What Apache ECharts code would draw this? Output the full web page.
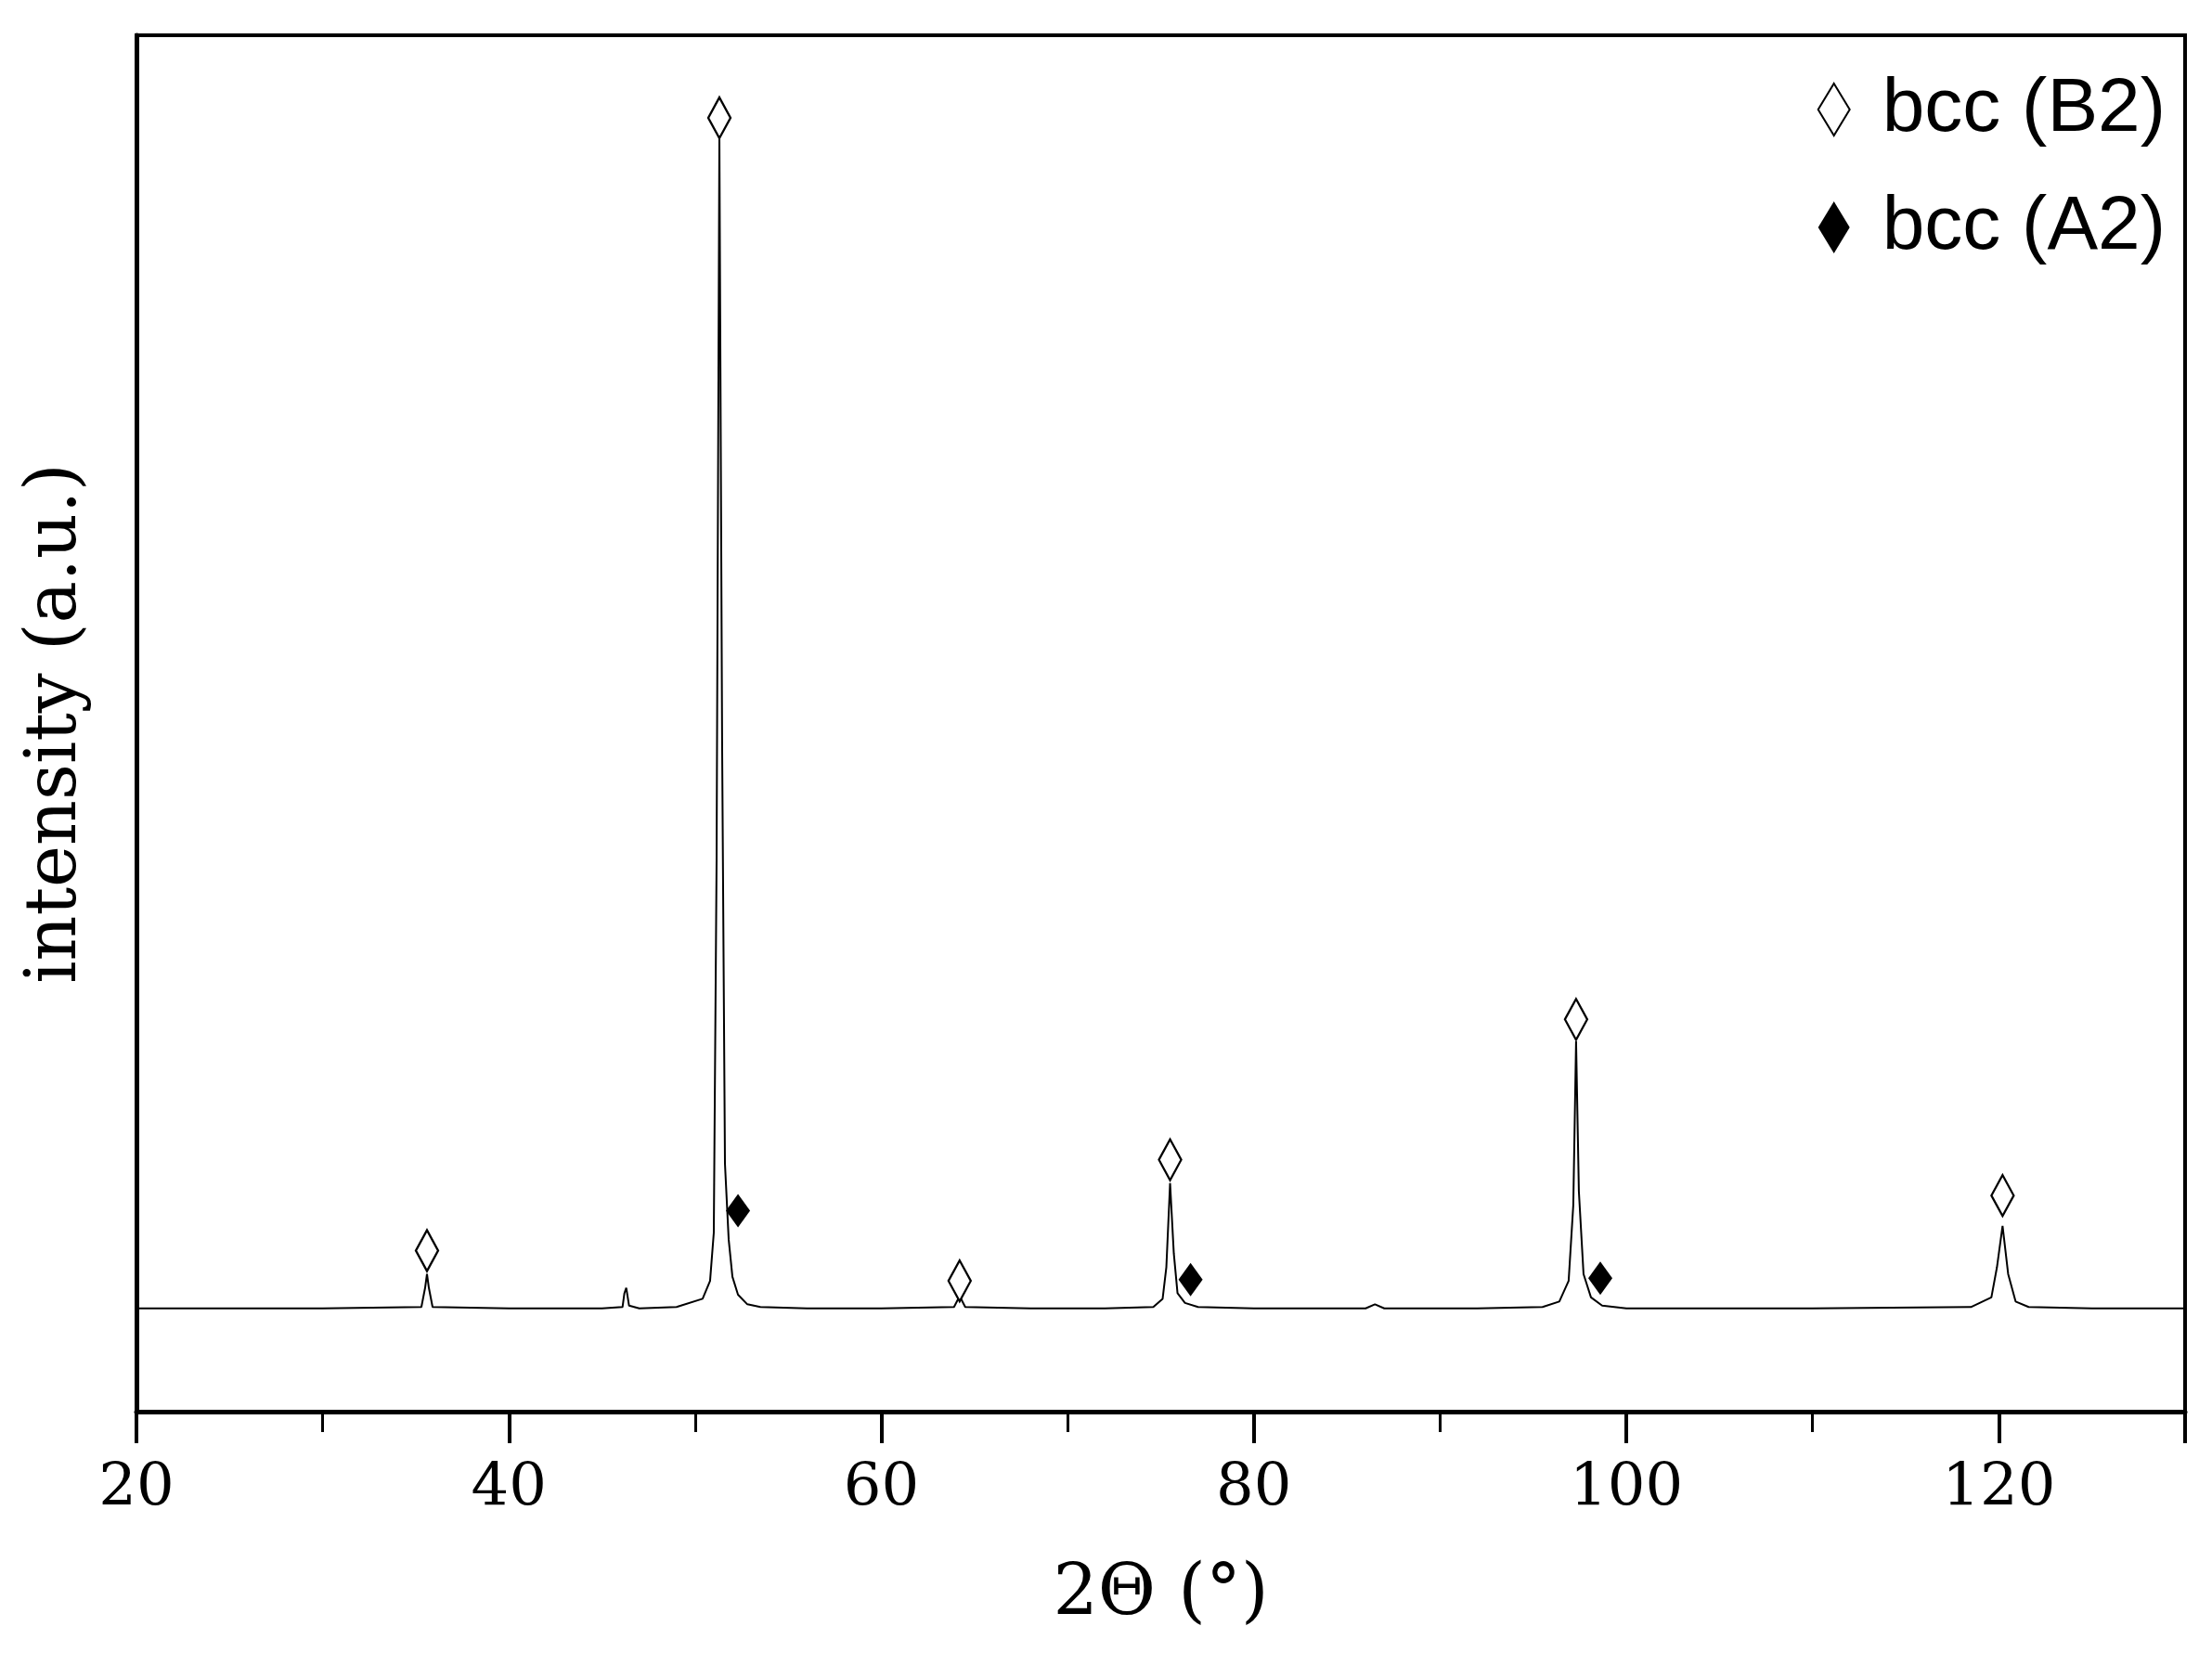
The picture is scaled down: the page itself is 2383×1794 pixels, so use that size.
<!DOCTYPE html>
<html><head><meta charset="utf-8">
<script src="https://cdn.jsdelivr.net/npm/echarts@6/dist/echarts.min.js"></script>
<style>html,body{margin:0;padding:0;background:#fff}#c{width:2383px;height:1794px}</style>
</head><body><div id="c"></div>
<script>
// XRD pattern (2θ, intensity a.u.)
const patternX = [20,25,30,35.3,35.5,35.6,35.7,35.9,40,45,46.1,46.2,46.3,46.45,47,49,50.4,50.8,51.0,51.15,51.3,51.45,51.6,51.8,52.0,52.3,52.8,53.5,56,60,63.9,64.2,64.5,68,72,74.6,75.1,75.3,75.5,75.7,75.9,76.3,77,80,86,86.5,87,92,95.5,96.4,96.9,97.15,97.3,97.45,97.7,98.1,98.7,100,105,110,118.5,119.6,119.9,120.2,120.5,120.9,121.6,125,130];
const patternY = [7.5,7.5,7.5,7.6,9.0,10.0,9.0,7.6,7.5,7.5,7.6,8.6,9.0,7.7,7.5,7.6,8.2,9.5,13.0,40,92.8,48,18,12.5,9.8,8.5,7.8,7.6,7.5,7.5,7.6,8.4,7.6,7.5,7.5,7.6,8.2,10.5,16.6,11.5,8.6,7.9,7.6,7.5,7.5,7.8,7.5,7.5,7.6,8.0,9.5,15,26.9,16,10.0,8.3,7.7,7.5,7.5,7.5,7.6,8.3,10.5,13.5,10.0,8.0,7.6,7.5,7.5];
const b2X = [35.6,51.3,64.2,75.5,97.3,120.2];
const b2Y = [11.7,94,9.5,18.3,28.5,15.7];
const a2X = [52.3,76.6,98.6];
const a2Y = [14.6,9.6,9.7];
const xTicks = [20,40,60,80,100,120];

const chart = echarts.init(document.getElementById('c'));
const serif = '"DejaVu Serif","Liberation Serif",serif';
chart.setOption({
  animation:false,
  backgroundColor:'#fff',
  grid:{left:147,right:29,top:38,bottom:273,show:true,borderColor:'#000',borderWidth:4},
  legend:{
    right:45,top:72,orient:'vertical',itemGap:45,itemWidth:34,itemHeight:56,
    textStyle:{fontFamily:'"Liberation Sans",Arial,sans-serif',fontSize:82,color:'#000',padding:[0,0,0,30]},
    data:['bcc (B2)','bcc (A2)']
  },
  xAxis:{type:'value',min:20,max:130,interval:20,
    name:'2Θ (°)',nameLocation:'middle',nameGap:160,
    nameTextStyle:{fontFamily:serif,fontSize:76,color:'#000'},
    axisLine:{lineStyle:{color:'#000',width:5}},
    axisTick:{length:34,lineStyle:{color:'#000',width:4}},
    minorTick:{show:true,splitNumber:2,length:22,lineStyle:{color:'#000',width:3}},
    axisLabel:{fontFamily:serif,fontSize:64,color:'#000',margin:52,
      formatter:v=>xTicks.includes(v)?String(v):''},
    splitLine:{show:false}},
  yAxis:{type:'value',min:0,max:100,
    name:'intensity (a.u.)',nameLocation:'middle',nameGap:48,
    nameTextStyle:{fontFamily:serif,fontSize:76,color:'#000'},
    axisLine:{lineStyle:{color:'#000',width:5}},
    axisTick:{show:false},axisLabel:{show:false},splitLine:{show:false}},
  series:[
    {type:'line',data:patternX.map((x,i)=>[x,patternY[i]]),showSymbol:false,
     lineStyle:{color:'#000',width:2},z:2},
    {name:'bcc (B2)',type:'scatter',symbol:'diamond',symbolSize:[24,44],
     data:b2X.map((x,i)=>[x,b2Y[i]]),
     itemStyle:{color:'#fff',borderColor:'#000',borderWidth:2.5,opacity:1},z:3},
    {name:'bcc (A2)',type:'scatter',symbol:'diamond',symbolSize:[26,36],
     data:a2X.map((x,i)=>[x,a2Y[i]]),
     itemStyle:{color:'#000',opacity:1},z:3}
  ]
});
</script></body></html>
